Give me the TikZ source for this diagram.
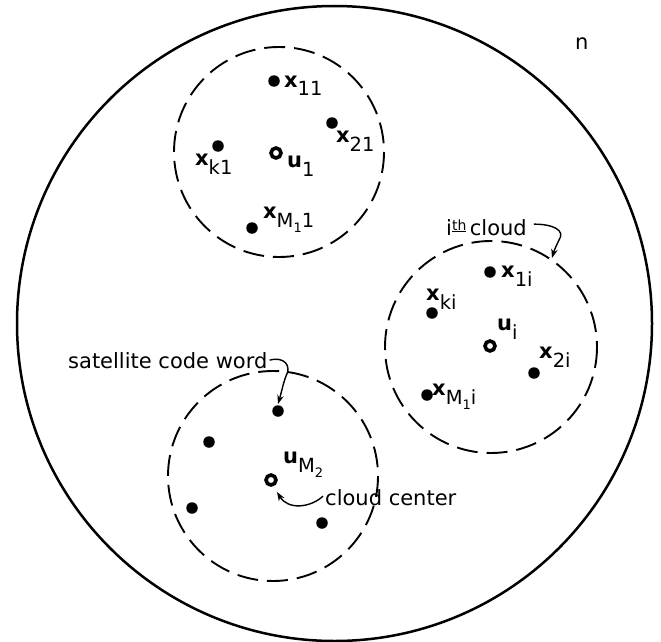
\documentclass[tikz,border=0pt]{standalone}
\usepackage{fontspec}
\setmainfont{DejaVu Sans}
\usetikzlibrary{arrows.meta}
\newcommand\bx{{\fontsize{21}{21}\selectfont\bfseries x}}
\newcommand\bu{{\fontsize{21}{21}\selectfont\bfseries u}}
\newcommand\subl[1]{\raisebox{-9pt}{\fontsize{19.5}{19.5}\selectfont #1}}
\newcommand\ssubl[1]{\raisebox{-5pt}{\fontsize{13}{13}\selectfont #1}}
\tikzset{
  dot/.style={circle, fill=black, inner sep=0pt, minimum size=11.5pt},
  hole/.style={circle, draw=black, line width=3.6pt, inner sep=0pt, minimum size=10pt},
  clouddash/.style={draw=black, line width=1.9pt, dash pattern=on 21pt off 9pt},
  lab/.style={anchor=base west, inner sep=0pt, font=\fontsize{21}{24}\selectfont},
  arr/.style={line width=1.4pt, -{Stealth[length=9pt,width=6.5pt]}}
}
\begin{document}
\begin{tikzpicture}[x=1pt,y=-1pt]
\useasboundingbox (0,0) rectangle (661,642);
% outer region
\draw[line width=2.5pt] (334.5,323.5) circle[radius=317.5];
\node[lab] (n) at (575,49) {n};

% clouds
\draw[clouddash] (279,152) circle[radius=105];
\draw[clouddash] (491,347) circle[radius=106];
\draw[clouddash] (273,476) circle[radius=105];

% cloud 1
\node[dot] (a11) at (274,81) {};
\node[dot] (a21) at (332,123) {};
\node[dot] (ak1) at (218,146) {};
\node[dot] (aM1) at (252,228) {};
\node[hole] (u1) at (276,153) {};
\node[lab] (la11) at (284,87) {\bx\subl{11}};
\node[lab] (la21) at (336,142) {\bx\subl{21}};
\node[lab] (lak1) at (195,165) {\bx\subl{k1}};
\node[lab] (laM1) at (263,218) {\bx\subl{M\ssubl{1}1}};
\node[lab] (lu1) at (287,167) {\bu\subl{1}};

% cloud i
\node[dot] (b1i) at (490,272) {};
\node[dot] (bki) at (432,313) {};
\node[dot] (b2i) at (534,373) {};
\node[dot] (bMi) at (427,395) {};
\node[hole] (ui) at (490,346) {};
\node[lab] (lb1i) at (501,277) {\bx\subl{1i}};
\node[lab] (lbki) at (426,300) {\bx\subl{ki}};
\node[lab] (lb2i) at (539,358) {\bx\subl{2i}};
\node[lab] (lbMi) at (432,395) {\bx\subl{M\ssubl{1}i}};
\node[lab] (lui) at (497,330) {\bu\subl{i}};
\node[lab] (ith) at (446,235) {i\raisebox{5pt}{\fontsize{14}{14}\selectfont\underline{th}}\,cloud};
\coordinate (ithtip) at (552,258);
\draw[arr] ([xshift=7pt,yshift=3pt]ith.east) .. controls (552,224) and (566,230) .. (559,240) .. controls (556,246) and (554,251) .. (ithtip);

% cloud M2
\node[dot] (ctop) at (278,411) {};
\node[dot] (cl1) at (209,442) {};
\node[dot] (cl2) at (192,508) {};
\node[dot] (cr) at (322,523) {};
\node[hole] (uM) at (271,480) {};
\node[lab] (luM) at (283,463) {\bu\subl{M\ssubl{2}}};
\node[lab] (sat) at (68,368) {satellite code word};
\node[lab] (cc) at (325,505) {cloud center};
\coordinate (cctip) at (277,492);
\draw[arr] ([xshift=2pt]sat.east) .. controls (284,356) and (292,366) .. (286,376) .. controls (283,384) and (281,394) .. ([yshift=1pt]ctop.north);
\draw[arr] ([xshift=-2pt,yshift=1pt]cc.west) .. controls (310,508) and (288,510) .. (cctip);
\end{tikzpicture}
\end{document}
